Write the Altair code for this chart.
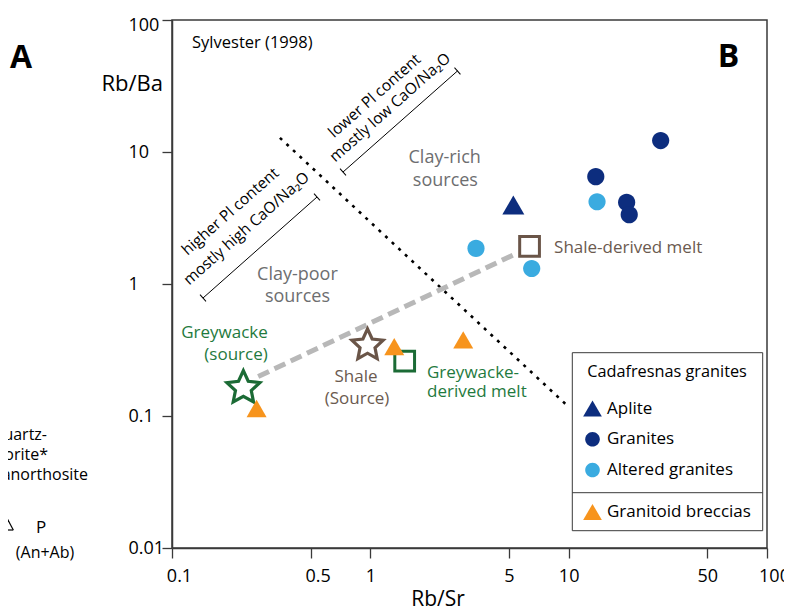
import altair as alt
import pandas as pd

FONT = "Open Sans"
AX = "#3a3a3a"

# ---------------- data ----------------
granite_x = [29.1, 13.7, 19.6, 20.2]
granite_y = [12.2, 6.5, 4.15, 3.35]
altered_x = [13.9, 3.41, 6.51]
altered_y = [4.2, 1.86, 1.31]
aplite_x = [5.26]
aplite_y = [3.97]
breccia_x = [0.267, 1.32, 2.94]
breccia_y = [0.114, 0.335, 0.377]

source_names = ["Greywacke (source)", "Shale (Source)"]
source_x = [0.229, 0.968]
source_y = [0.163, 0.343]
melt_names = ["Greywacke-derived melt", "Shale-derived melt"]
melt_x = [1.49, 6.35]
melt_y = [0.26, 1.93]

mixing_x = [0.272, 5.47]
mixing_y = [0.199, 1.708]
boundary_x = [0.350, 9.89]
boundary_y = [12.8, 0.119]
high_pl_x = [0.1433, 0.5384]
high_pl_y = [0.783, 4.56]
low_pl_x = [0.728, 2.75]
low_pl_y = [7.05, 41.1]

x_ticks = [0.1, 0.5, 1, 5, 10, 50, 100]
y_ticks = [0.01, 0.1, 1, 10, 100]
granite_groups = ["Aplite", "Granites", "Altered granites"]
breccia_group = ["Granitoid breccias"]

# ---------------- styles ----------------
NAVY = "#0d2d7e"
LIGHT = "#3aabe0"
ORANGE = "#f7941d"
GREEN = "#1b6b35"
GREEN_T = "#1f7a3e"
BROWN = "#6a5548"
BROWN_T = "#6b5a4f"
GREY_T = "#6d6e70"
source_colors = [GREEN, BROWN]
source_sizes = [1197, 1076]
melt_colors = [GREEN, BROWN]

STAR = ("M0,-1L0.282,-0.388L0.951,-0.309L0.457,0.148L0.588,0.809L0,0.48"
        "L-0.588,0.809L-0.457,0.148L-0.951,-0.309L-0.282,-0.388Z")
CIRCLE = "M0.78,0A0.78,0.78,0,1,1,-0.78,0A0.78,0.78,0,1,1,0.78,0Z"

xs = alt.Scale(type="log", domain=[0.1, 100], nice=False)
ys = alt.Scale(type="log", domain=[0.01, 100], nice=False)

xaxis = alt.Axis(
    values=x_ticks, format="~g", title="Rb/Sr", titleX=265.5, titleY=57,
    titleBaseline="alphabetic", titleFontSize=21, titleFontWeight="normal",
    titleFont=FONT, titleColor="black", labelFontSize=18, labelFont=FONT,
    labelColor="black", labelFlush=False, labelPadding=9, labelOverlap=False,
    labelOffset={"condition": {"test": "datum.value < 0.6 || datum.value > 60", "value": 7}, "value": 0},
    tickSize=10, tickColor=AX, tickWidth=1.3, domainColor=AX, domainWidth=1.5,
    grid=False,
)
yaxis = alt.Axis(
    values=y_ticks, format="~g", title="Rb/Ba", titleAngle=0, titleX=-40.3,
    titleY=70.5, titleAlign="center", titleBaseline="alphabetic",
    titleFontSize=22, titleFontWeight="normal", titleFont=FONT,
    titleColor="black", labelFontSize=18, labelFont=FONT, labelColor="black",
    labelAlign="left", labelBaseline="middle", labelPadding=34,
    labelFlush=False, labelOverlap=False,
    labelOffset={"condition": {"test": "datum.value > 60", "value": 5}, "value": 0},
    tickSize=10, tickColor=AX, tickWidth=1.3, domainColor=AX, domainWidth=1.5,
    grid=False,
)
X = alt.X("x:Q", scale=xs, axis=xaxis)
Y = alt.Y("y:Q", scale=ys, axis=yaxis)

one = alt.Data(values=[{"k": 0}])


def line_layer(lx, ly, **mark):
    df = pd.DataFrame({"x": lx, "y": ly, "o": list(range(len(lx)))})
    return alt.Chart(df).mark_line(**mark).encode(x=X, y=Y, order="o:Q")


def text_layer(labels, tx, ty, color, size, align="center", angle=0):
    df = pd.DataFrame({"x": tx, "y": ty, "t": labels})
    return alt.Chart(df).mark_text(
        font=FONT, fontSize=size, color=color, align=align, baseline="middle",
        angle=angle,
    ).encode(x=X, y=Y, text="t:N")


def px_text(label, px, py, size, weight="normal", align="center"):
    return alt.Chart(one).mark_text(
        text=label, font=FONT, fontSize=size, fontWeight=weight, color="black",
        align=align, baseline="middle",
    ).encode(x=alt.value(px), y=alt.value(py))


layers = []

# legend box (drawn first, under everything)
layers.append(alt.Chart(one).mark_rect(fill="white", stroke=AX, strokeWidth=1).encode(
    x=alt.value(400.3), x2=alt.value(590.7), y=alt.value(332.7), y2=alt.value(510.7)))
layers.append(alt.Chart(one).mark_rule(color=AX, strokeWidth=1).encode(
    x=alt.value(400.3), x2=alt.value(590.7), y=alt.value(472.7)))
layers.append(px_text("Cadafresnas granites", 495, 352, 16.3))

# boundary and annotation lines
layers.append(line_layer(boundary_x, boundary_y, color="black", strokeWidth=2.6,
                         strokeDash=[3, 6]))
layers.append(line_layer(high_pl_x, high_pl_y, color="black", strokeWidth=1))
layers.append(line_layer(low_pl_x, low_pl_y, color="black", strokeWidth=1))
caps = pd.DataFrame({"x": high_pl_x + low_pl_x, "y": high_pl_y + low_pl_y})
layers.append(alt.Chart(caps).mark_point(
    shape="M0,-1L0,1", angle=318.5, size=81, filled=False, color="black",
    strokeWidth=1, opacity=1).encode(x=X, y=Y))

# mixing line
layers.append(line_layer(mixing_x, mixing_y, color="#b8b8b8", strokeWidth=5,
                         strokeDash=[12, 6]))

# sources (stars) and melts (squares)
for i in range(len(source_names)):
    df = pd.DataFrame({"x": [source_x[i]], "y": [source_y[i]]})
    layers.append(alt.Chart(df).mark_point(
        shape=STAR, size=source_sizes[i], filled=False, color=source_colors[i],
        strokeWidth=3.2, opacity=1).encode(x=X, y=Y))
for i in range(len(melt_names)):
    df = pd.DataFrame({"x": [melt_x[i]], "y": [melt_y[i]]})
    layers.append(alt.Chart(df).mark_point(
        shape="square", size=390, filled=False, color=melt_colors[i],
        strokeWidth=3, opacity=1).encode(x=X, y=Y))

# breccias (own legend)
brec = pd.DataFrame({"x": breccia_x, "y": breccia_y,
                     "group": breccia_group * len(breccia_x)})
leg2 = alt.Legend(title=None, orient="none", legendX=411, legendY=482.5,
                  symbolType="triangle-up", symbolSize=350, symbolStrokeWidth=0,
                  labelFont=FONT, labelFontSize=17, labelColor="black",
                  labelOffset=5, padding=0)
layers.append(alt.Chart(brec).mark_point(
    shape="triangle-up", size=400, filled=True, opacity=1).encode(
    x=X, y=Y,
    fill=alt.Fill("group:N", scale=alt.Scale(domain=breccia_group, range=[ORANGE]),
                  legend=leg2)))

# granites
gr = pd.DataFrame({
    "x": aplite_x + granite_x + altered_x,
    "y": aplite_y + granite_y + altered_y,
    "group": ["Aplite"] * len(aplite_x) + ["Granites"] * len(granite_x)
    + ["Altered granites"] * len(altered_x),
})
leg1 = alt.Legend(title=None, orient="none", legendX=411, legendY=379,
                  symbolSize=350, symbolStrokeWidth=0, labelFont=FONT,
                  labelFontSize=17, labelColor="black", labelOffset=5,
                  rowPadding=12.75, padding=0)
layers.append(alt.Chart(gr).mark_point(size=484, filled=True, opacity=1).encode(
    x=X, y=Y,
    color=alt.Color("group:N", scale=alt.Scale(domain=granite_groups,
                                               range=[NAVY, NAVY, LIGHT]),
                    legend=leg1),
    shape=alt.Shape("group:N", scale=alt.Scale(domain=granite_groups,
                                               range=["triangle-up", CIRCLE, CIRCLE]),
                    legend=leg1),
))

# annotation text
layers.append(text_layer(["Sylvester (1998)"], [0.1262], [67.5], "black", 16.5, align="left"))
layers.append(text_layer(["Clay-rich", "sources", "Clay-poor", "sources"],
                         [2.37, 2.39, 0.429, 0.429], [8.96, 6.03, 1.174, 0.804],
                         GREY_T, 18))
layers.append(text_layer(["Greywacke", "(source)"], [0.184, 0.2102], [0.4217, 0.2923],
                         GREEN_T, 17))
layers.append(text_layer(["Shale", "(Source)"], [0.8467, 0.8567], [0.1985, 0.1334],
                         BROWN_T, 17))
layers.append(text_layer(["Greywacke-", "derived melt"], [1.931, 1.931], [0.2107, 0.1528],
                         GREEN_T, 17, align="left"))
layers.append(text_layer(["Shale-derived melt"], [8.44], [1.874], BROWN_T, 17, align="left"))
layers.append(text_layer(["higher Pl content", "mostly high CaO/Na\u2082O"],
                         [0.197, 0.2375], [3.54, 2.634], "black", 15.5, angle=318.5))
layers.append(text_layer(["lower Pl content", "mostly low CaO/Na\u2082O"],
                         [1.05, 1.257], [26.6, 21.7], "black", 15.5, angle=318.5))

# panel letters and the cropped neighbour panel
layers.append(px_text("A", -151, 37.5, 32, weight="bold"))
layers.append(px_text("B", 556.5, 36.5, 32, weight="bold"))
layers.append(px_text("quartz-", -125, 415, 16, align="right"))
layers.append(px_text("diorite*", -124, 435, 16, align="right"))
layers.append(px_text("anorthosite", -84, 455, 16, align="right"))
layers.append(px_text("P", -131, 508, 17))
layers.append(px_text("(An+Ab)", -127, 533, 16))
layers.append(alt.Chart(one).mark_rule(color="black", strokeWidth=1.2).encode(
    x=alt.value(-172), y=alt.value(485), x2=alt.value(-158.7), y2=alt.value(510)))
layers.append(alt.Chart(one).mark_rule(color="black", strokeWidth=1.2).encode(
    x=alt.value(-172), y=alt.value(510), x2=alt.value(-158.7), y2=alt.value(510)))

chart = alt.layer(*layers).properties(
    width=595, height=528,
    autosize=alt.AutoSizeParams(type="none"),
    padding={"left": 164, "top": 12, "right": 17, "bottom": 60},
).configure_view(stroke=AX, strokeWidth=1.5)

chart.save("out.html", embed_options={"renderer": "svg", "actions": False})
